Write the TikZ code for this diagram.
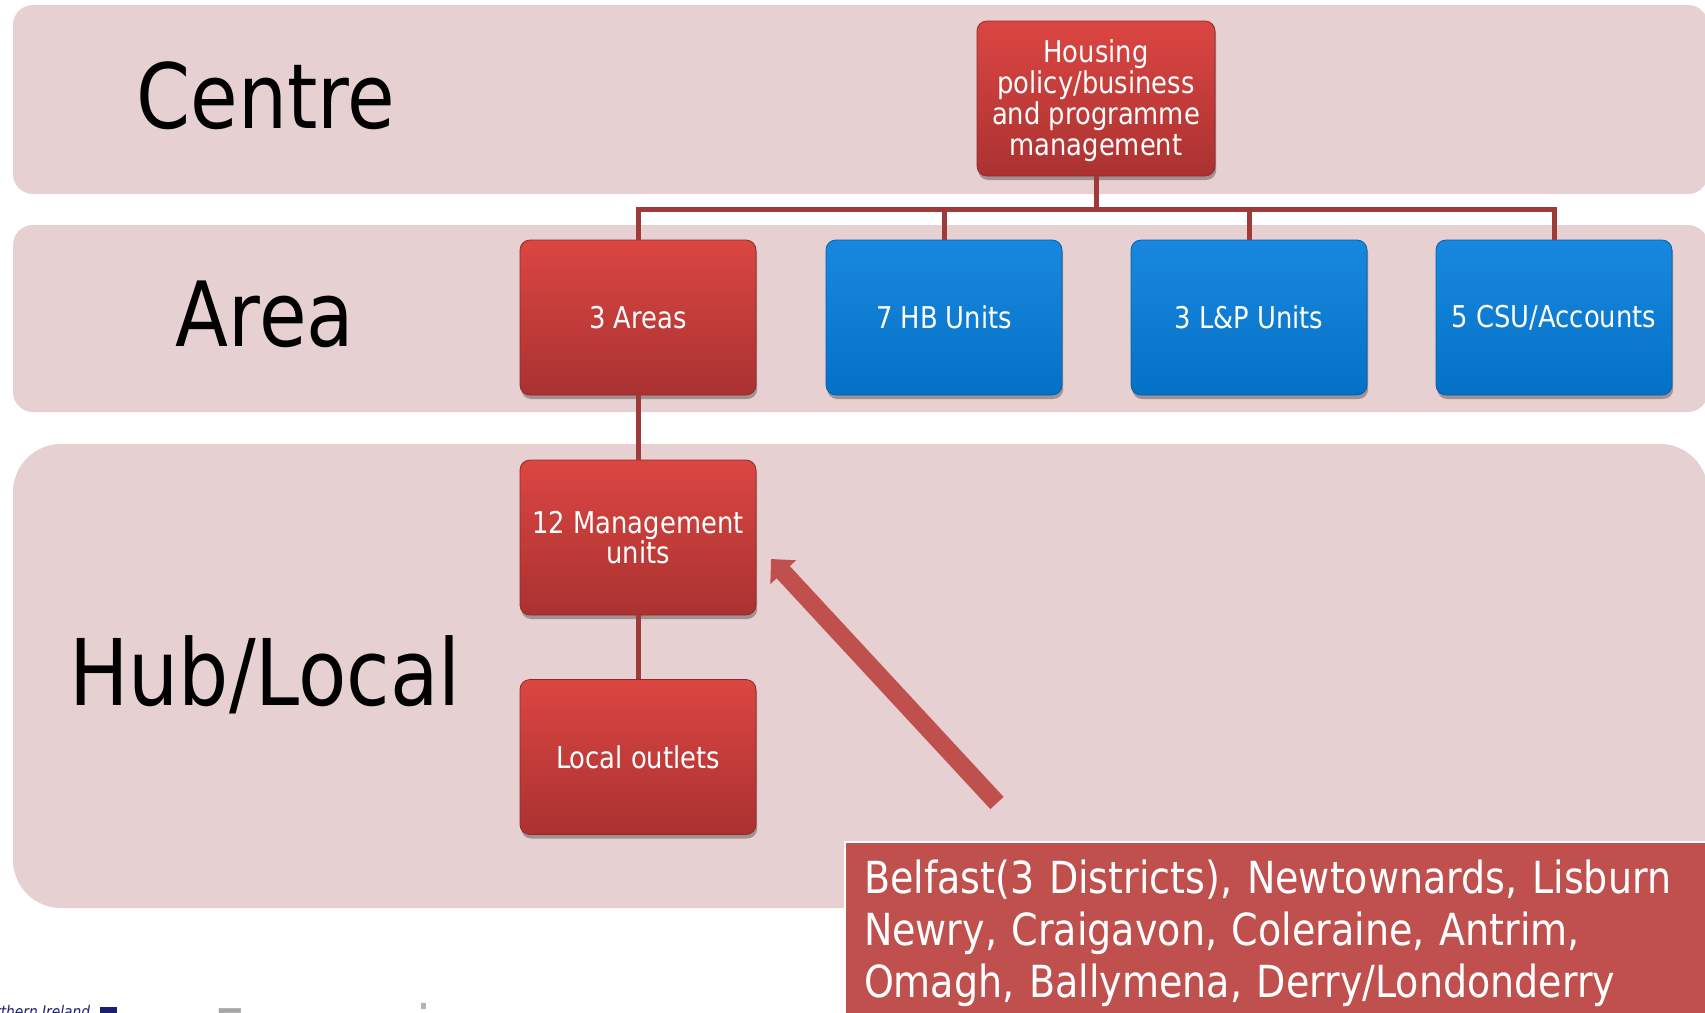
\documentclass[tikz,border=0pt]{standalone}
\usepackage{fontspec}
\setmainfont{DejaVu Sans}[FakeStretch=0.86]
\usetikzlibrary{shadows,arrows.meta}

\definecolor{band}{RGB}{231,208,209}
\definecolor{redtop}{RGB}{219,70,66}
\definecolor{redbot}{RGB}{170,50,49}
\definecolor{bluetop}{RGB}{24,136,222}
\definecolor{bluebot}{RGB}{5,113,198}
\definecolor{linkred}{RGB}{158,58,58}
\definecolor{calloutred}{RGB}{192,80,77}
\definecolor{navy}{RGB}{30,30,110}

\begin{document}
\begin{tikzpicture}[x=0.5pt,y=-0.5pt,
  tierlabel/.style={font=\fontsize{45pt}{45pt}\selectfont, text=black, inner sep=0pt, anchor=base},
  unitbox/.style={rounded corners=5pt, minimum width=118pt, minimum height=77.5pt,
    text=white, align=center, inner sep=2pt,
    font=\fontsize{15pt}{15.4pt}\selectfont,
    drop shadow={shadow xshift=0.6pt, shadow yshift=-2pt, opacity=0.3, fill=black}},
  redbox/.style={unitbox, top color=redtop, bottom color=redbot, draw=redbot!85!black, line width=0.4pt},
  bluebox/.style={unitbox, top color=bluetop, bottom color=bluebot, draw=bluebot!85!black, line width=0.4pt},
  link/.style={draw=linkred, line width=2.5pt},
  pointer/.style={draw=calloutred, line width=9pt, -{Triangle[length=9pt,width=17pt]}}
]
\useasboundingbox (0,0) rectangle (1705,1013);
\clip (0,0) rectangle (1705,1013);
\fill[white] (0,0) rectangle (1705,1013);

% tier bands
\fill[band, rounded corners=10pt] (13,5) rectangle (1708,194);
\fill[band, rounded corners=10pt] (13,225) rectangle (1708,412);
\fill[band, rounded corners=24pt] (13,444) rectangle (1708,908);

% tier labels
\node[tierlabel] (lcentre) at (266,128) {Centre};
\node[tierlabel] (larea) at (265,346) {Area};
\node[tierlabel, font=\fontsize{46pt}{46pt}\selectfont] (lhub) at (265,705) {Hub/Local};

% organisation units
\node[redbox] (hq) at (1096,98.5) {\raisebox{-1.2pt}[\height][\depth]{\parbox{115pt}{\centering Housing\\policy/business\\and programme\\management}}};
\node[redbox] (areas) at (638,317.5) {3 Areas};
\node[bluebox] (hb) at (944,317.5) {7 HB Units};
\node[bluebox] (lp) at (1249,317.5) {3 L\&P Units};
\node[bluebox] (csu) at (1554,317.5) {5 CSU/Accounts};
\node[redbox] (mgmt) at (638,537.5) {12 Management\\units};
\node[redbox] (outlets) at (638,757) {Local outlets};

% reporting lines
\coordinate (bus) at (1096,209);
\draw[link] (hq.south) -- (bus);
\draw[link] (areas.north) |- (bus) -| (csu.north);
\draw[link] (hb.north) -- (hb.north |- bus);
\draw[link] (lp.north) -- (lp.north |- bus);
\draw[link] (areas.south) -- (mgmt.north);
\draw[link] (mgmt.south) -- (outlets.north);

% list of management units
\node[anchor=north west, fill=calloutred, draw=white, line width=1pt,
      inner xsep=9.5pt, inner ysep=9pt, text width=425pt,
      align=left, text=white, font=\fontsize{22.1pt}{26pt}\selectfont] (towns) at (844,841)
  {Belfast(3 Districts), Newtownards, Lisburn\\
   Newry, Craigavon, Coleraine, Antrim,\\
   Omagh, Ballymena, Derry/Londonderry};

% pointer from the list to the management units
\coordinate (atail) at (997,803);
\coordinate (atip) at (771,559);
\draw[pointer] (atail) -- (atip);

% footer logos, cut by the lower edge
\node[anchor=base west, inner sep=0pt, text=navy, font=\fontsize{8pt}{8pt}\itshape] (nilogo) at (-24,1017) {Northern Ireland};
\fill[navy] (100,1007) rectangle (117,1016);
\node[anchor=north west, inner sep=0pt, text=gray!70, font=\fontsize{28pt}{28pt}\selectfont] (eulogo) at (214,1008) {E};
\fill[gray!60] (421,1003) rectangle (426,1009);
\end{tikzpicture}
\end{document}
